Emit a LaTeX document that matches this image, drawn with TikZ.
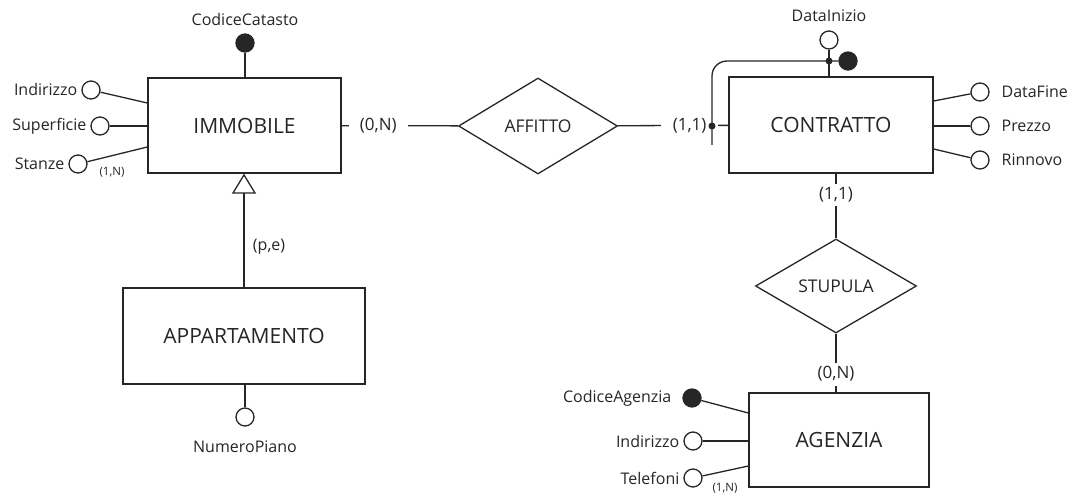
\documentclass[tikz,border=0pt]{standalone}
\usepackage{fontspec}
\setmainfont{Open Sans}
\usepackage{tikz}
\usetikzlibrary{shapes.geometric,arrows.meta}
\newcommand{\EF}{\fontsize{21pt}{24pt}\selectfont}
\newcommand{\AF}{\fontsize{16pt}{19pt}\selectfont}
\newcommand{\RF}{\fontsize{17.5pt}{20pt}\selectfont}
\newcommand{\CF}{\fontsize{17pt}{20pt}\selectfont}
\newcommand{\SF}{\fontsize{11.5pt}{13pt}\selectfont}

\begin{document}
\begin{tikzpicture}[x=1pt, y=-1pt, line width=1.3pt, color=black!85, text=black!85,
  ent/.style={draw, fill=white, inner sep=0pt, font=\EF},
  rel/.style={draw, diamond, aspect=1.7, inner sep=0pt, font=\RF},
  attr/.style={draw, circle, fill=white, minimum size=18pt, inner sep=0pt, label distance=5pt},
  key/.style={attr, fill=black!85},
  dot/.style={circle, fill=black!85, minimum size=7pt, inner sep=0pt},
  card/.style={fill=white, inner sep=4pt, font=\CF},
  every label/.style={font=\AF, text=black!85}]

  \useasboundingbox (0,0) rectangle (1069,497);
  \fill[white] (0,0) rectangle (1069,497);

  %% entities
  \node[ent, minimum width=193pt, minimum height=95pt] (immobile) at (244.5,125.5) {IMMOBILE};
  \node[ent, minimum width=242pt, minimum height=96pt] (appartamento) at (244,336) {APPARTAMENTO};
  \node[ent, minimum width=204pt, minimum height=96pt] (contratto) at (831,125) {CONTRATTO};
  \node[ent, minimum width=180pt, minimum height=94pt] (agenzia) at (839,440) {AGENZIA};

  %% relationships
  \node[rel, minimum width=159pt, minimum height=96pt] (affitto) at (538,126) {AFFITTO};
  \node[rel, minimum width=161pt, minimum height=94pt] (stupula) at (836,286) {STUPULA};

  %% attributes of IMMOBILE
  \node[key, label={[label distance=4pt]above:CodiceCatasto}] (codcat) at (245,43) {};
  \node[attr, label=left:Indirizzo] (indirI) at (91,90) {};
  \node[attr, label=left:Superficie] (superf) at (100,126) {};
  \node[attr, label=left:Stanze] (stanze) at (78,164) {};
  \node[font=\SF] (stanzeN) at (112,172) {(1,N)};
  \draw (codcat) -- (codcat |- immobile.north);
  \draw (indirI) -- ([yshift=22.5pt]immobile.west);
  \draw (superf) -- (superf -| immobile.west);
  \draw (stanze) -- ([yshift=-21.5pt]immobile.west);

  %% APPARTAMENTO
  \node[attr, label={[label distance=10pt]below:NumeroPiano}] (numpiano) at (245,417) {};
  \draw (numpiano) -- (numpiano |- appartamento.south);
  \draw[-{Triangle[open, length=20pt, width=24pt]}] (appartamento.north)
    -- node[pos=0.36, right=5pt, font=\AF]{(p,e)} (appartamento.north |- immobile.south);

  %% attributes of CONTRATTO
  \node[attr, label={[label distance=5pt]above:DataInizio}] (datain) at (829,40) {};
  \node[attr, label={[label distance=8pt]right:DataFine}] (datafine) at (980,92) {};
  \node[attr, label={[label distance=8pt]right:Prezzo}] (prezzo) at (980,126) {};
  \node[attr, label={[label distance=8pt]right:Rinnovo}] (rinnovo) at (980,160) {};
  \draw (datain) -- (datain |- contratto.north);
  \draw (datafine) -- ([yshift=24pt]contratto.east);
  \draw (prezzo) -- (prezzo -| contratto.east);
  \draw (rinnovo) -- ([yshift=-24pt]contratto.east);

  %% attributes of AGENZIA
  \node[key, label={[label distance=7pt]left:CodiceAgenzia}] (codag) at (692,398) {};
  \node[attr, label=left:Indirizzo] (indirA) at (693,441) {};
  \node[attr, label=left:Telefoni] (telef) at (693,478) {};
  \node[font=\SF] (telefN) at (725,488) {(1,N)};
  \draw (codag) -- ([yshift=27pt]agenzia.west);
  \draw (indirA) -- (indirA -| agenzia.west);
  \draw (telef) -- ([yshift=-26pt]agenzia.west);

  %% links with cardinalities
  \draw (immobile) -- node[card, pos=0.315, inner xsep=11pt]{(0,N)} (affitto);
  \draw (affitto) -- node[card, pos=0.65, inner xsep=12pt]{(1,1)} (contratto);
  \draw (contratto.south -| stupula) -- node[card, pos=0.33]{(1,1)} (stupula.north);
  \draw (stupula.south) -- node[card, pos=0.69]{(0,N)} (stupula.south |- agenzia.north);

  %% external identifier of CONTRATTO
  \coordinate (idcorner) at (712,61);
  \coordinate (idend) at (712,145);
  \node[key] (idcontr) at (848,61) {};
  \draw[rounded corners=15pt] (idend) -- (idcorner) -- (idcontr);
  \node[dot] (dotdata) at (829,61) {};
  \node[dot] (dotaff) at (712,126) {};

\end{tikzpicture}
\end{document}
